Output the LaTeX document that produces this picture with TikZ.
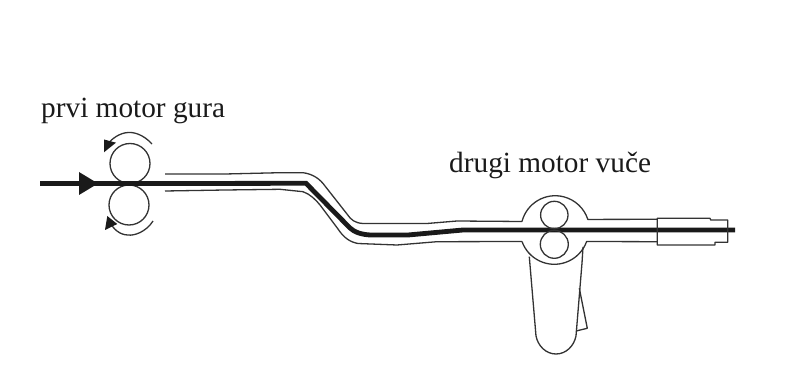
\documentclass[tikz,border=0pt]{standalone}
\usepackage{fontspec}
\setmainfont{Liberation Serif}
\definecolor{ink}{HTML}{1A1A1A}
\definecolor{thin}{HTML}{333333}
\tikzset{
  outline/.style={draw=thin,line width=1.3pt,line join=round},
  core/.style={draw=ink,line width=4.8pt},
  solidtip/.style={fill=ink,draw=none},
  caption/.style={anchor=base west,inner sep=0pt,text=ink,font=\fontsize{29.3}{32}\selectfont}
}
\begin{document}
\begin{tikzpicture}[x=1pt,y=-1pt]
\useasboundingbox (0,0) rectangle (787,374);
% text
\node[caption] (t1) at (41,118) {prvi motor gura};
\node[caption] (t2) at (449,173) {drugi motor vuče};
% rollers motor 1
\draw[outline] (130,163.5) circle (20);
\draw[outline] (129,205) circle (20);
% rotation arcs
\draw[outline] (152,144) .. controls (143,134) and (133,132) .. (128,132.5) .. controls (120,133) and (112,138) .. (106,146);
\fill[solidtip] (104,139.5) -- (116,142.7) -- (104,152.3) -- cycle;
\draw[outline] (153,221) .. controls (146,232) and (134,236) .. (128,235) .. controls (120,235) and (113,229) .. (110,222);
\fill[solidtip] (107.3,216) -- (117.3,224) -- (105,230) -- cycle;
% feed line and arrow
\draw[draw=ink,line width=4.5pt] (40,183.5) -- (165,183.5);
\fill[solidtip] (79,172) -- (98,183.5) -- (79,195) -- cycle;
% tube
\draw[outline] (165,174) -- (225,174) -- (280,172.7) -- (303,172.7) .. controls (313,174) and (320,179) .. (325,186) -- (347,214)
  .. controls (351,220) and (355,223) .. (363,223.5) -- (427,223.5) -- (457,221) -- (522,221.5);
\draw[outline] (165,191) -- (225,190) -- (280,189.3) -- (303,191.7) .. controls (310,194) and (316,200) .. (320,205) -- (338,229)
  .. controls (344,238) and (350,242) .. (358,243.5) -- (397,245) -- (437,241.7) -- (522,241.5);
\draw[core] (165,183.5) -- (306,183.3) -- (350,228) .. controls (354,232) and (362,235) .. (372,235) -- (408,235) -- (463,230) -- (735,230);
% puller housing
\draw[outline] (522,221.5) arc[start angle=-165.6,end angle=-18,radius=34.3] -- (657,219.3);
\draw[outline] (522,241.5) arc[start angle=160.4,end angle=19.6,radius=34.3] -- (657,241.7);
\draw[outline] (554.3,215) circle (13.7);
\draw[outline] (554.3,244.3) circle (14);
% nozzle
\draw[outline] (657.3,218.3) -- (710,218.3) -- (710.7,220) -- (727.7,220) -- (727.7,242.3) -- (715,242.3) -- (715,245) -- (657.3,245) -- cycle;
% handle
\draw[outline] (529.3,256.7) -- (536,336) .. controls (538,346) and (546,354) .. (556,354) .. controls (566,354) and (574,346) .. (576,336) -- (582,263);
\draw[outline] (583,247) -- (582,263);
\draw[outline] (579.3,288.3) -- (587.3,328.3) -- (576,331);
\end{tikzpicture}
\end{document}
